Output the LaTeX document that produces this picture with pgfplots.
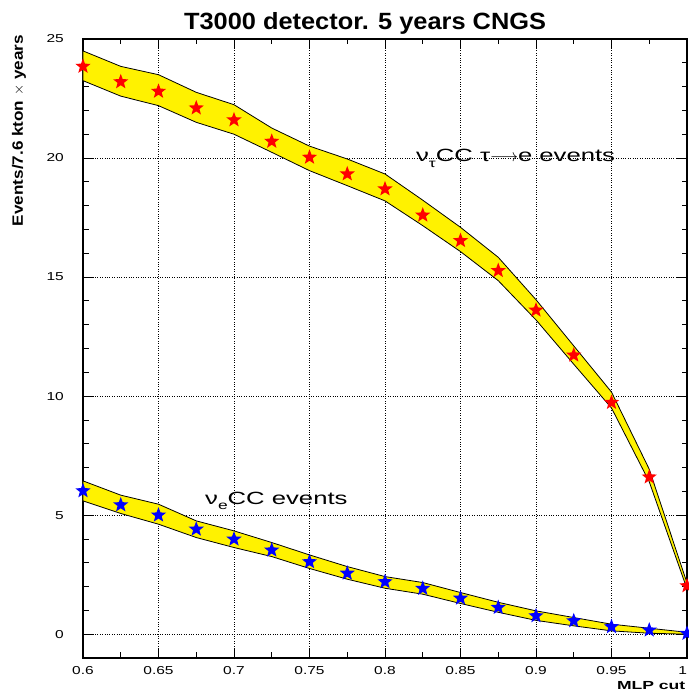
\documentclass[border=0pt]{standalone}
\usepackage{fontspec}
\setmainfont{Liberation Sans}
\newfontfamily\tickfont{Liberation Sans}[FakeStretch=1.35]
\newfontfamily\annfont{Liberation Sans}[FakeStretch=1.45]
\newfontfamily\titlefont{Liberation Sans}[FakeStretch=1.08]
\newfontfamily\ylabfont{Liberation Sans}[FakeStretch=1.14]
\newfontfamily\xlabfont{Liberation Sans}[FakeStretch=1.5]
\usepackage{pgfplots}
\pgfplotsset{compat=1.18}

\pgfdeclareplotmark{fstar}{%
 \pgfpathmoveto{\pgfpointpolar{90}{\pgfplotmarksize}}%
 \pgfpathlineto{\pgfpointpolar{126}{0.42\pgfplotmarksize}}%
 \pgfpathlineto{\pgfpointpolar{162}{\pgfplotmarksize}}%
 \pgfpathlineto{\pgfpointpolar{198}{0.42\pgfplotmarksize}}%
 \pgfpathlineto{\pgfpointpolar{234}{\pgfplotmarksize}}%
 \pgfpathlineto{\pgfpointpolar{270}{0.42\pgfplotmarksize}}%
 \pgfpathlineto{\pgfpointpolar{306}{\pgfplotmarksize}}%
 \pgfpathlineto{\pgfpointpolar{342}{0.42\pgfplotmarksize}}%
 \pgfpathlineto{\pgfpointpolar{18}{\pgfplotmarksize}}%
 \pgfpathlineto{\pgfpointpolar{54}{0.42\pgfplotmarksize}}%
 \pgfpathclose\pgfusepathqfill}

\begin{document}
\begin{tikzpicture}
\useasboundingbox (-83pt,-40pt) rectangle (605pt,658pt);
\begin{axis}[
 at={(0,0)}, anchor=south west,
 scale only axis, width=604pt, height=619pt,
 xmin=0.6, xmax=1, ymin=-1, ymax=25,
 xtick={0.6,0.65,0.7,0.75,0.8,0.85,0.9,0.95,1},
 xticklabels={0.6,0.65,0.7,0.75,0.8,0.85,0.9,0.95,\llap{1}},
 ytick={0,5,10,15,20,25},
 minor x tick num=1, minor y tick num=4,
 tick align=inside,
 major tick length=10pt, minor tick length=5.5pt,
 grid=major,
 major grid style={black, dotted, line width=0.6pt},
 axis line style={line width=1.2pt},
 tick style={black, line width=0.8pt},
 /pgf/number format/assume math mode=true,
 x tick label style={font=\tickfont\fontsize{11.5}{12}\selectfont, anchor=north, inner sep=0pt, yshift=-8pt},
 y tick label style={font=\tickfont\fontsize{11.5}{12}\selectfont, anchor=east, inner sep=0pt, xshift=-19pt},
 title={T3000 detector. 5 years CNGS},
 title style={at={(axis description cs:0.467,1)}, anchor=base, yshift=3pt, inner sep=0pt, font=\titlefont\bfseries\fontsize{23.5}{24}\selectfont},
 xlabel={MLP cut},
 xlabel style={at={(axis description cs:1,0)}, anchor=north east, inner sep=0pt, yshift=-23pt, xshift=-1.5pt, font=\xlabfont\bfseries\fontsize{11.7}{12}\selectfont},
 ylabel={Events/7.6 kton $\times$ years},
 ylabel style={at={(axis description cs:-0.106,1.0065)}, anchor=east, inner sep=0pt, font=\ylabfont\bfseries\fontsize{15}{16}\selectfont},
]
% nu_tau band
\addplot[fill=yellow, draw=black, line width=0.8pt] coordinates {
 (0.6,24.5) (0.625,23.85) (0.65,23.5) (0.675,22.76) (0.7,22.24) (0.725,21.26)
 (0.75,20.5) (0.775,19.96) (0.8,19.33) (0.825,18.23) (0.85,17.09) (0.875,15.83)
 (0.9,14.05) (0.925,12.11) (0.95,10.17) (0.975,6.93) (1.0,2.15)
 (1.0,1.9) (0.975,6.4) (0.95,9.5) (0.925,11.34) (0.9,13.2) (0.875,14.85)
 (0.85,16.07) (0.825,17.16) (0.8,18.2) (0.775,18.84) (0.75,19.47) (0.725,20.24)
 (0.7,21.0) (0.675,21.5) (0.65,22.2) (0.625,22.6) (0.6,23.25)
} -- cycle;
% nu_e band
\addplot[fill=yellow, draw=black, line width=0.8pt] coordinates {
 (0.6,6.44) (0.625,5.84) (0.65,5.46) (0.675,4.76) (0.7,4.34) (0.725,3.85)
 (0.75,3.33) (0.775,2.84) (0.8,2.42) (0.825,2.17) (0.85,1.75) (0.875,1.34)
 (0.9,0.98) (0.925,0.70) (0.95,0.42) (0.975,0.25) (1.0,0.08)
 (1.0,0.0) (0.975,0.04) (0.95,0.14) (0.925,0.35) (0.9,0.58) (0.875,0.92)
 (0.85,1.29) (0.825,1.68) (0.8,1.93) (0.775,2.31) (0.75,2.76) (0.725,3.26)
 (0.7,3.64) (0.675,4.06) (0.65,4.62) (0.625,5.07) (0.6,5.6)
} -- cycle;
% nu_tau points
\addplot[only marks, mark=fstar, mark size=8pt, color=red] coordinates {
 (0.6,23.85) (0.625,23.2) (0.65,22.8) (0.675,22.1) (0.7,21.6) (0.725,20.7)
 (0.75,20.03) (0.775,19.33) (0.8,18.7) (0.825,17.6) (0.85,16.53) (0.875,15.27)
 (0.9,13.61) (0.925,11.72) (0.95,9.73) (0.975,6.6) (1.0,2.03)
};
% nu_e points
\addplot[only marks, mark=fstar, mark size=8pt, color=blue] coordinates {
 (0.6,6.02) (0.625,5.43) (0.65,5.0) (0.675,4.41) (0.7,3.99) (0.725,3.53)
 (0.75,3.04) (0.775,2.56) (0.8,2.2) (0.825,1.92) (0.85,1.51) (0.875,1.12)
 (0.9,0.77) (0.925,0.56) (0.95,0.31) (0.975,0.17) (1.0,0.03)
};
\node[anchor=base west, inner sep=0pt, font=\annfont\fontsize{17.7}{18}\selectfont] at (axis cs:0.8205,19.87) {ν\raisebox{-0.35em}{\fontsize{12}{12}\selectfont τ}CC τ$\longrightarrow$e events};
\node[anchor=base west, inner sep=0pt, font=\annfont\fontsize{17.7}{18}\selectfont] at (axis cs:0.6808,5.45) {ν\raisebox{-0.3em}{\fontsize{12}{12}\selectfont e}CC events};
\end{axis}
\end{tikzpicture}
\end{document}
